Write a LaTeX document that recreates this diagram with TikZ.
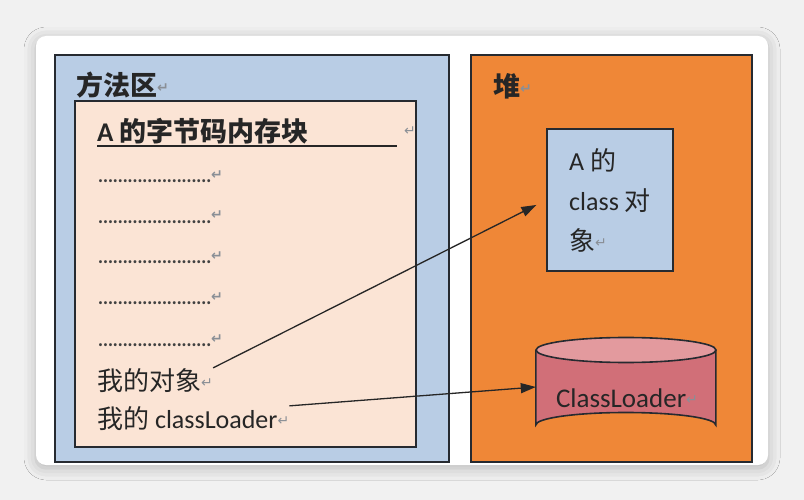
\documentclass[tikz,border=0pt]{standalone}
\usepackage{fontspec}
\usepackage{xcolor}
\setmainfont{Noto Sans CJK SC}
\newfontfamily\latfont{Carlito}
\newfontfamily\arrowfont{DejaVu Sans}
\usetikzlibrary{positioning,arrows.meta,shadows.blur}

\definecolor{pagegray}{HTML}{F1F1F1}
\definecolor{areablue}{HTML}{B9CDE5}
\definecolor{blockpeach}{HTML}{FBE4D5}
\definecolor{heaporange}{HTML}{EF8737}
\definecolor{loaderbody}{HTML}{D16F78}
\definecolor{loadertop}{HTML}{E39A9E}
\definecolor{framedark}{HTML}{262A30}
\definecolor{markgray}{HTML}{8A8F96}

\newcommand{\ret}{{\arrowfont\fontsize{14}{14}\selectfont\color{markgray}\raisebox{3pt}{↵}}}
\newcommand{\lat}[1]{{\latfont #1}}

\tikzset{
  area/.style={draw=framedark,line width=1.6pt},
  txt/.style={inner sep=0pt,anchor=base west,font=\fontsize{26}{26}\selectfont,text=black!85},
  head/.style={txt,font=\fontsize{27}{27}\selectfont\bfseries},
  dots/.style={inner sep=0pt,anchor=base west,font=\fontsize{14}{14}\selectfont\bfseries,text=black!75},
  link/.style={line width=1.3pt,draw=black!85,-{Triangle[length=15pt,width=10pt]}}
}

\begin{document}
\begin{tikzpicture}[x=1pt,y=-1pt]
% page and card
\fill[pagegray] (0,0) rectangle (804,500);
\fill[white,rounded corners=10pt,blur shadow={shadow xshift=0pt,shadow yshift=-3pt,shadow blur radius=12pt,shadow opacity=25}] (36,36) rectangle (768,465);

% method area
\draw[area,fill=areablue] (55,55) rectangle (449,462);
\draw (76,96) node[head](marea) {方法区\ret};
\draw[area,fill=blockpeach] (75,101) rectangle (416,447);
\draw (97,142) node[head](block) {\lat{A} 的字节码内存块};
\draw[line width=1.3pt,black!85] (97,146) -- (397,146);
\draw (410,133) node[inner sep=0pt](bret) {\ret};
\draw (98,183) node[dots](rowa) {.......................\ret};
\draw (98,223) node[dots](rowb) {.......................\ret};
\draw (98,263) node[dots](rowc) {.......................\ret};
\draw (98,304) node[dots](rowd) {.......................\ret};
\draw (98,346) node[dots](rowe) {.......................\ret};
\draw (97,390) node[txt](myobj) {我的对象\ret};
\draw (97,428) node[txt](myloader) {我的 \lat{classLoader}\ret};

% heap
\draw[area,fill=heaporange] (471,55) rectangle (752,462);
\draw (493,97) node[head](heap) {堆\ret};
\draw (610,200) node[area,fill=areablue,minimum width=126pt,minimum height=142pt,align=left,
  font=\fontsize{26}{40}\selectfont,text=black!85](aobj) {\lat{A} 的\\\lat{class} 对\\象\ret};

% class loader cylinder
\draw (626,387) node[minimum width=180pt,minimum height=100pt,inner sep=0pt](loader) {};
\draw[area,fill=loaderbody] (loader.west) ++(0,-37) -- ++(0,75)
  arc[start angle=180,end angle=360,x radius=90pt,y radius=-12.5pt] -- ++(0,-75);
\draw[area,fill=loadertop] (loader.center) ++(0,-37) ellipse[x radius=90pt,y radius=12.5pt];
\draw (627,398) node[inner sep=0pt,font=\fontsize{27}{27}\selectfont,text=black!85](ltext) {\lat{ClassLoader}\ret};

% references
\draw[link,shorten >=11pt] (myobj.north east) -- (aobj.west);
\draw[link] (myloader.north east) -- (loader.west);
\end{tikzpicture}
\end{document}
